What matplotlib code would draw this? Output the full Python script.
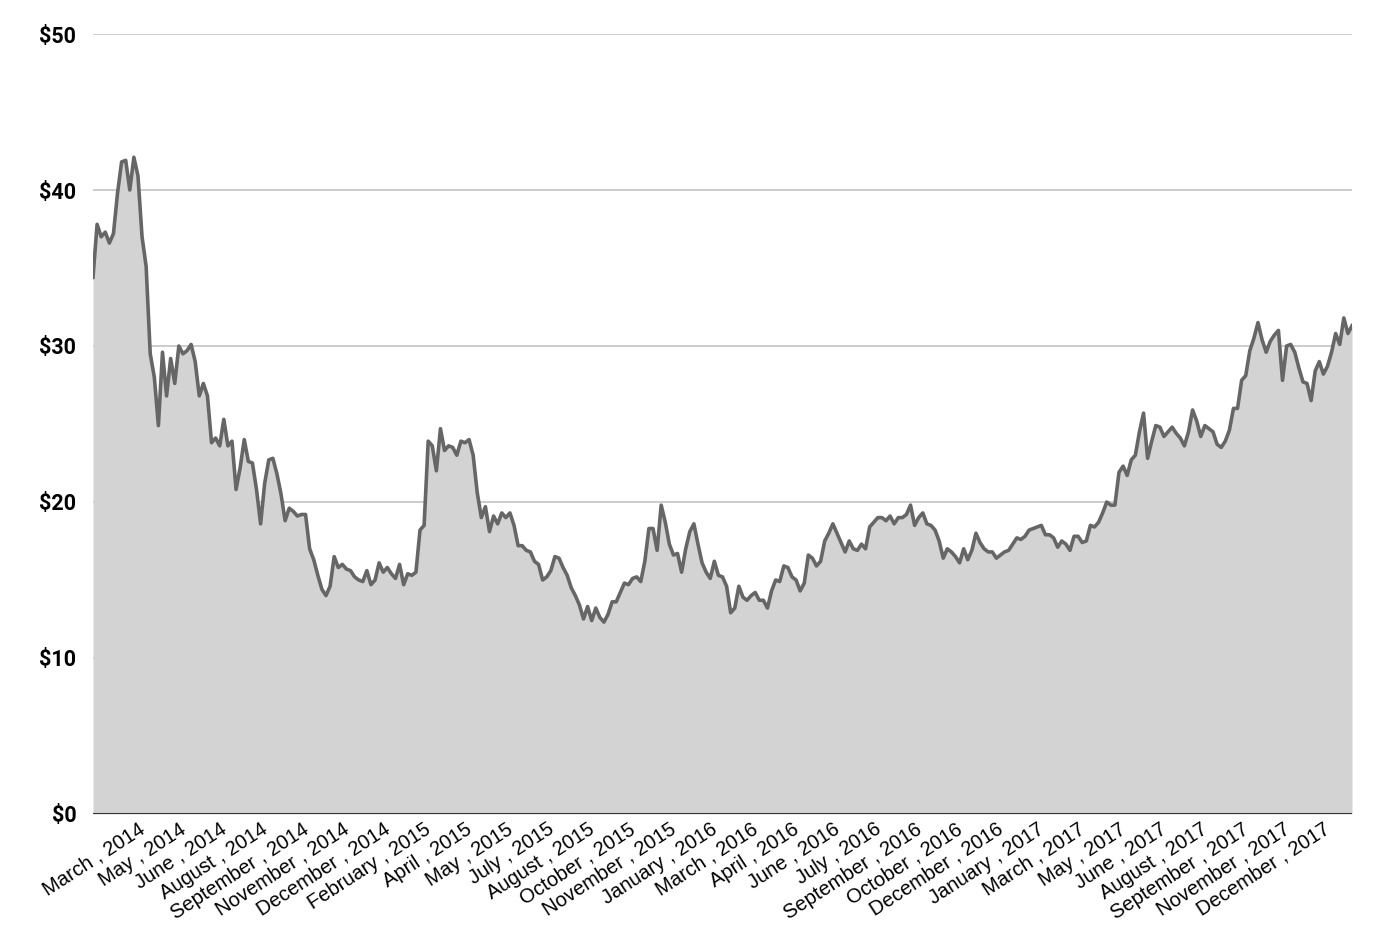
import matplotlib
matplotlib.use("Agg")
import matplotlib.pyplot as plt
import numpy as np

# closing price at even steps (Mar 2014 -> Dec 2017)
prices_a = [34.4, 37.8, 37.0, 37.3, 36.6, 37.2, 39.8, 41.8, 41.9, 40.0,
            42.1, 40.9, 37.0, 35.1, 29.5, 28.0, 24.9, 29.6, 26.8, 29.2,
            27.6, 30.0, 29.5, 29.7, 30.1, 29.0, 26.8, 27.6, 26.8, 23.8,
            24.1, 23.6, 25.3, 23.6, 23.9, 20.8, 22.2, 24.0, 22.6, 22.5,
            20.8, 18.6, 21.2, 22.7, 22.8, 21.8, 20.5, 18.8, 19.6, 19.4,
            19.1]
prices_b = [19.2, 19.2, 17.0, 16.3, 15.3, 14.4, 14.0, 14.6, 16.5, 15.8,
            16.0, 15.7, 15.6, 15.2, 15.0, 14.9, 15.6, 14.7, 15.0, 16.1,
            15.5, 15.8, 15.4, 15.1, 16.0, 14.7, 15.4, 15.3, 15.5, 18.2,
            18.5, 23.9, 23.6, 22.0, 24.7, 23.3, 23.6, 23.5, 23.0, 23.9,
            23.8, 24.0, 23.0, 20.6, 19.0, 19.7, 18.1, 19.1, 18.6, 19.3]
prices_c = [19.0, 19.3, 18.5, 17.2, 17.2, 16.9, 16.8, 16.2, 16.0, 15.0,
            15.2, 15.6, 16.5, 16.4, 15.8, 15.3, 14.5, 14.0, 13.4, 12.5,
            13.3, 12.4, 13.2, 12.6, 12.3, 12.8, 13.6, 13.6, 14.2, 14.8,
            14.7, 15.1, 15.2, 14.9, 16.2, 18.3, 18.3, 16.9, 19.8, 18.7,
            17.3, 16.6, 16.7, 15.5, 17.0, 18.1, 18.6, 17.3, 16.1, 15.5]
prices_d = [15.1, 16.2, 15.3, 15.2, 14.6, 12.9, 13.2, 14.6, 13.9, 13.7,
            14.0, 14.2, 13.7, 13.7, 13.2, 14.3, 15.0, 14.9, 15.9, 15.8,
            15.2, 15.0, 14.3, 14.8, 16.6, 16.4, 15.9, 16.2, 17.5, 18.0,
            18.6, 18.0, 17.4, 16.8, 17.5, 17.0, 16.9, 17.3, 17.0, 18.4,
            18.7, 19.0, 19.0, 18.8, 19.1, 18.6, 19.0, 19.0, 19.2, 19.8]
prices_e = [18.5, 19.0, 19.3, 18.6, 18.5, 18.2, 17.5, 16.4, 17.0, 16.8,
            16.5, 16.1, 17.0, 16.3, 16.9, 18.0, 17.4, 17.0, 16.8, 16.8,
            16.4, 16.6, 16.8, 16.9, 17.3, 17.7, 17.6, 17.8, 18.2, 18.3,
            18.4, 18.5, 17.9, 17.9, 17.7, 17.1, 17.5, 17.3, 16.9, 17.8,
            17.8, 17.4, 17.5, 18.5, 18.4, 18.7, 19.3, 20.0, 19.8, 19.8]
prices_f = [21.9, 22.3, 21.7, 22.7, 23.0, 24.5, 25.7, 22.8, 23.9, 24.9,
            24.8, 24.2, 24.5, 24.8, 24.4, 24.1, 23.6, 24.5, 25.9, 25.2,
            24.2, 24.9, 24.7, 24.5, 23.7, 23.5, 23.9, 24.6, 26.0, 26.0,
            27.8, 28.1, 29.7, 30.5, 31.5, 30.4, 29.6, 30.3, 30.7, 31.0,
            27.8, 30.0, 30.1, 29.6, 28.6, 27.7, 27.6, 26.5, 28.4, 29.0,
            28.2, 28.7, 29.6, 30.8, 30.1, 31.8, 30.8, 31.3]

month_labels = ["March , 2014", "May , 2014", "June , 2014", "August , 2014",
                "September , 2014", "November , 2014", "December , 2014",
                "February , 2015", "April , 2015", "May , 2015", "July , 2015",
                "August , 2015", "October , 2015", "November , 2015",
                "January , 2016", "March , 2016", "April , 2016", "June , 2016",
                "July , 2016", "September , 2016", "October , 2016",
                "December , 2016", "January , 2017", "March , 2017", "May , 2017",
                "June , 2017", "August , 2017", "September , 2017",
                "November , 2017", "December , 2017"]

y_ticks = [0, 10, 20, 30, 40, 50]

prices = np.array(prices_a + prices_b + prices_c + prices_d + prices_e + prices_f)
x = np.arange(len(prices))

FIRST_LABEL = 11
LABEL_EVERY = 10
label_pos = FIRST_LABEL + LABEL_EVERY * np.arange(len(month_labels))

fig = plt.figure(figsize=(13.94, 9.5), dpi=100)
ax = fig.add_axes([93 / 1394, 136 / 950, (1352 - 93) / 1394, 780 / 950])

for yv in y_ticks[1:]:
    ax.axhline(yv, color="#c8c8c8", lw=1.3, zorder=0)

ax.fill_between(x, prices, 0, color="#d3d3d3", lw=0, zorder=1)
ax.plot(x, prices, color="#666666", lw=2.6, zorder=2)
ax.axhline(0, color="#333333", lw=2.2, zorder=3)

ax.set_xlim(0, len(prices) - 1)
ax.set_ylim(0, 50)

for s in ax.spines.values():
    s.set_visible(False)

ax.set_yticks(y_ticks)
ax.set_yticklabels(["$%d" % v for v in y_ticks], fontsize=15.5,
                   fontweight="bold", family="Roboto")
ax.tick_params(axis="y", length=0, pad=12)

ax.set_xticks(label_pos)
ax.set_xticklabels(month_labels, rotation=33, ha="right", va="top",
                   rotation_mode="anchor", fontsize=14.5, family="Liberation Sans")
ax.tick_params(axis="x", length=0, pad=4)

fig.savefig("out.png", dpi=100)
